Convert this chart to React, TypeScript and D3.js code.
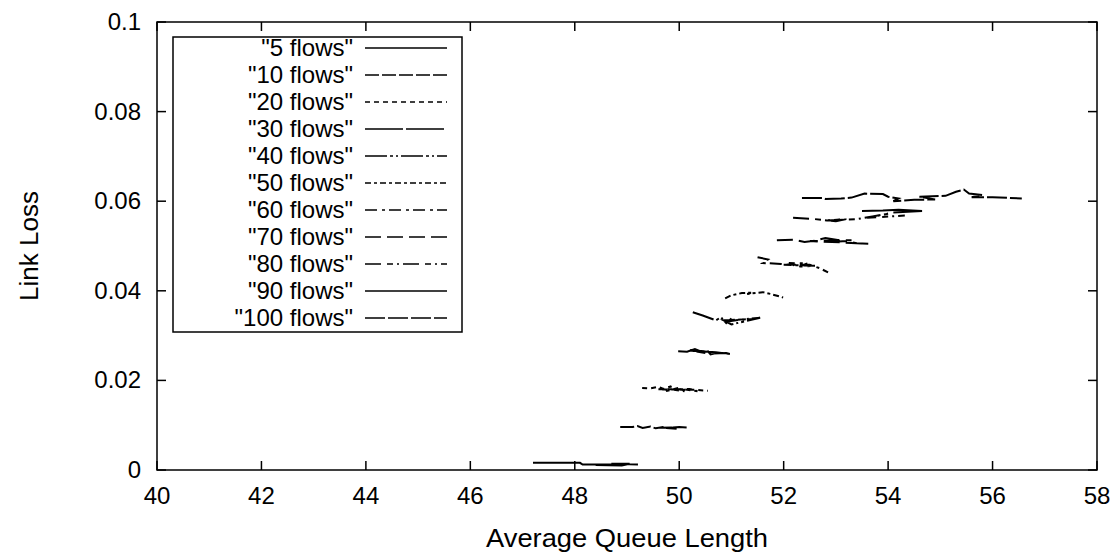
import React from "react";
import * as d3 from "d3";

type Pt = [number, number];

const seriesNames = ['"5 flows"', '"10 flows"', '"20 flows"', '"30 flows"', '"40 flows"', '"50 flows"', '"60 flows"', '"70 flows"', '"80 flows"', '"90 flows"', '"100 flows"'];

const flows5: Pt[] = [[47.2, 0.0016], [47.8, 0.0016], [48.1, 0.0016], [48.15, 0.0012], [48.6, 0.0012], [49.0, 0.0013], [48.4, 0.0011], [48.9, 0.0010], [49.05, 0.0014], [48.7, 0.0014], [49.21, 0.0012]];
const flows10: Pt[] = [[48.87, 0.0096], [49.1, 0.0096], [49.2, 0.0098], [49.3, 0.0094], [49.45, 0.0097], [49.55, 0.0093], [49.7, 0.0096], [49.6, 0.0094], [49.85, 0.0095], [49.95, 0.0092], [49.75, 0.0094], [50.0, 0.0096], [50.15, 0.0095]];
const flows20: Pt[] = [[49.29, 0.0183], [49.45, 0.0182], [49.6, 0.0186], [49.7, 0.0181], [49.85, 0.0187], [49.75, 0.0176], [50.0, 0.0184], [50.1, 0.0176], [49.9, 0.0179], [50.2, 0.0181], [50.35, 0.0176], [50.1, 0.0180], [49.6, 0.0180], [50.3, 0.0179], [50.55, 0.0177]];
const flows30: Pt[] = [[49.98, 0.0265], [50.15, 0.0264], [50.3, 0.0270], [50.45, 0.0263], [50.35, 0.0266], [50.55, 0.0265], [50.6, 0.0258], [50.75, 0.0262], [50.65, 0.0260], [50.9, 0.0261], [50.97, 0.0259], [50.7, 0.0263], [50.2, 0.0267], [50.5, 0.0261]];
const flows40: Pt[] = [[50.26, 0.0352], [50.45, 0.0345], [50.7, 0.0334], [50.8, 0.0341], [50.9, 0.0328], [51.0, 0.0338], [50.95, 0.0332], [51.2, 0.0336], [51.55, 0.0340], [51.3, 0.0333], [51.0, 0.0325], [50.85, 0.0334], [51.4, 0.0337]];
const flows50: Pt[] = [[50.88, 0.0383], [51.0, 0.0390], [51.2, 0.0395], [51.4, 0.0396], [51.3, 0.0393], [51.6, 0.0397], [51.75, 0.0393], [51.99, 0.0385]];
const flows60: Pt[] = [[51.5, 0.0475], [51.7, 0.0470], [51.6, 0.0462], [51.95, 0.0460], [52.2, 0.0457], [52.1, 0.0462], [52.45, 0.0461], [52.3, 0.0454], [52.6, 0.0456], [52.0, 0.0458], [52.5, 0.0458], [52.7, 0.0450], [52.85, 0.0441]];
const flows70: Pt[] = [[51.87, 0.0513], [52.2, 0.0514], [52.4, 0.0509], [52.6, 0.0512], [52.8, 0.0518], [53.0, 0.0514], [52.9, 0.0509], [53.2, 0.0511], [53.4, 0.0506], [53.62, 0.0505], [53.1, 0.0508], [52.5, 0.0511], [53.3, 0.0513]];
const flows80: Pt[] = [[52.18, 0.0563], [52.6, 0.0560], [53.0, 0.0555], [53.2, 0.0560], [52.8, 0.0557], [53.4, 0.0560], [53.7, 0.0566], [54.0, 0.0572], [53.6, 0.0563], [54.32, 0.0568]];
const flows90: Pt[] = [[53.5, 0.0578], [53.9, 0.0579], [54.2, 0.0581], [54.65, 0.0578], [54.1, 0.0575]];
const flows100: Pt[] = [[52.35, 0.0607], [52.75, 0.0607], [52.8, 0.0605], [53.1, 0.0606], [53.3, 0.0608], [53.55, 0.0617], [53.9, 0.0616], [54.0, 0.0610], [54.2, 0.0606], [54.1, 0.0600], [54.5, 0.0603], [54.9, 0.0604], [54.6, 0.0610], [55.1, 0.0612], [55.3, 0.0621], [55.45, 0.0626], [55.55, 0.0617], [55.8, 0.0614], [55.6, 0.0609], [56.0, 0.0609], [56.56, 0.0606]];

const seriesData: Pt[][] = [flows5, flows10, flows20, flows30, flows40, flows50, flows60, flows70, flows80, flows90, flows100];

const dashes = ["", "14,3", "5,4", "38,3", "22,3,3,3,2,3", "6,3,3,3", "12,5,3,4", "16,6", "16,6,6,4,2,4", "", "20,3"];

const xTicks = [40, 42, 44, 46, 48, 50, 52, 54, 56, 58];
const yTicks = [0, 0.02, 0.04, 0.06, 0.08, 0.1];
const yTickLabels = ["0", "0.02", "0.04", "0.06", "0.08", "0.1"];

const FONT = "'Liberation Sans', Arial, sans-serif";

export default function App() {
  const W = 1114, H = 553;
  const left = 157, right = 1097, top = 22, bottom = 470;
  const x = d3.scaleLinear().domain([40, 58]).range([left, right]);
  const y = d3.scaleLinear().domain([0, 0.1]).range([bottom, top]);
  const line = d3.line<Pt>().x(d => x(d[0])).y(d => y(d[1]));
  const tl = 9;
  const fs = 24;

  const legX0 = 173, legY0 = 37, legX1 = 462, legY1 = 332;
  const rowH = 27, row0 = 48;

  return (
    <svg width={W} height={H} style={{ position: "absolute", left: 0, top: 0, background: "#fff" }} fontFamily={FONT}>
      <rect x={0} y={0} width={W} height={H} fill="#fff" />
      {xTicks.map(t => (
        <g key={"x" + t}>
          <line x1={x(t)} x2={x(t)} y1={bottom} y2={bottom - tl} stroke="#000" strokeWidth={1.5} />
          <line x1={x(t)} x2={x(t)} y1={top} y2={top + tl} stroke="#000" strokeWidth={1.5} />
          <text x={x(t)} y={bottom + 34} fontSize={fs} textAnchor="middle" fill="#000">{t}</text>
        </g>
      ))}
      {yTicks.map((t, i) => (
        <g key={"y" + t}>
          <line x1={left} x2={left + tl} y1={y(t)} y2={y(t)} stroke="#000" strokeWidth={1.5} />
          <line x1={right} x2={right - tl} y1={y(t)} y2={y(t)} stroke="#000" strokeWidth={1.5} />
          <text x={left - 16} y={y(t) + 8} fontSize={fs} textAnchor="end" fill="#000">{yTickLabels[i]}</text>
        </g>
      ))}
      <rect x={left} y={top} width={right - left} height={bottom - top} fill="none" stroke="#000" strokeWidth={1.5} />
      <text x={(left + right) / 2} y={547} fontSize={25} textAnchor="middle" fill="#000" textLength={282} lengthAdjust="spacingAndGlyphs">Average Queue Length</text>
      <text transform={`translate(38,246) rotate(-90)`} fontSize={25} textAnchor="middle" fill="#000" textLength={110} lengthAdjust="spacingAndGlyphs">Link Loss</text>

      {seriesData.map((d, i) => (
        <path key={"s" + i} d={line(d) || ""} fill="none" stroke="#000" strokeWidth={2} strokeDasharray={dashes[i] || undefined} />
      ))}

      <rect x={legX0} y={legY0} width={legX1 - legX0} height={legY1 - legY0} fill="#fff" stroke="#000" strokeWidth={1.5} />
      {seriesNames.map((n, i) => (
        <g key={"l" + i}>
          <text x={353} y={row0 + i * rowH + 8} fontSize={fs} textAnchor="end" fill="#000">{n}</text>
          <line x1={365} x2={447} y1={row0 + i * rowH} y2={row0 + i * rowH} stroke="#000" strokeWidth={1.6} strokeDasharray={dashes[i] || undefined} />
        </g>
      ))}
    </svg>
  );
}
